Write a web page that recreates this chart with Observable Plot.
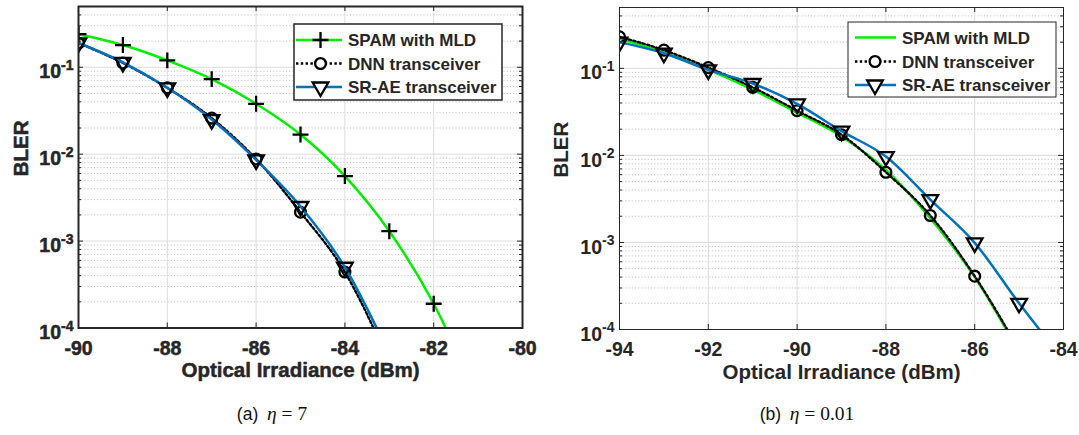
<!DOCTYPE html>
<html>
<head>
<meta charset="utf-8">
<script src="https://cdn.jsdelivr.net/npm/d3@7"></script>
<script src="https://cdn.jsdelivr.net/npm/@observablehq/plot@0.6"></script>
<style>
  body { margin: 0; background: #fff; }
  #fig { position: relative; width: 1079px; height: 435px; background: #fff; }
  .panel { position: absolute; top: 0; }
  .caption {
    position: absolute; top: 402px; width: 300px; text-align: center;
    font-size: 17.5px; color: #111; line-height: 24px;
  }
  .caption .tag { font-family: "Liberation Sans", Arial, sans-serif; }
  .caption .math { font-family: "Liberation Serif", "DejaVu Serif", serif; font-size: 19.5px; }
</style>
</head>
<body>
<div id="fig"></div>
<script>
const GREEN = "#00f000", BLUE = "#0072bd", INK = "#262626";

// Series names
const seriesNames = ["SPAM with MLD", "DNN transceiver", "SR-AE transceiver"];

// (a) eta = 7 : BLER versus optical irradiance (dBm)
const irradianceA = [-90, -89, -88, -87, -86, -85, -84, -83, -82, -81];
const spamA = [0.24, 0.18, 0.12, 0.073, 0.038, 0.0168, 0.0056, 0.0013, 0.00019, 0.000015];
const dnnA  = [0.19, 0.112, 0.058, 0.026, 0.0088, 0.00215, 0.00044, 0.00004];
const sraeA = [0.19, 0.114, 0.058, 0.025, 0.0086, 0.0025, 0.0005, 0.00005];
const xTicksA = [-90, -88, -86, -84, -82, -80];

// (b) eta = 0.01
const irradianceB = [-94, -93, -92, -91, -90, -89, -88, -87, -86, -85, -84];
const spamB = [0.22, 0.152, 0.097, 0.057, 0.031, 0.0165, 0.0068, 0.0019, 0.0004, 0.000055];
const dnnB  = [0.23, 0.162, 0.102, 0.0605, 0.0326, 0.0173, 0.0064, 0.00204, 0.00041, 0.000058];
const sraeB = [0.2, 0.149, 0.096, 0.067, 0.039, 0.019, 0.0097, 0.0031, 0.00099, 0.0002, 0.000045];
const xTicksB = [-94, -92, -90, -88, -86, -84];

// Shared log axis
const yDomain = [1e-4, 0.5];
const yDecades = [1e-4, 1e-3, 1e-2, 1e-1];
const yMinor = yDecades.flatMap(d => [2, 3, 4, 5, 6, 7, 8, 9].map(k => +(k * d).toPrecision(3)))
  .filter(v => v <= yDomain[1]);

const rows = (xs, ys) => ys.map((y, i) => ({x: xs[i], y}));

const FONT = "'Liberation Sans', Arial, sans-serif";
const MARK = {plus: 5.2, circle: 5.4, triangle: 5.8};

function legendMark(entries, box) {
  return () => {
    const g = d3.create("svg:g")
      .attr("font-family", FONT).attr("font-weight", "bold")
      .attr("font-size", 17).attr("fill", INK).attr("text-anchor", "start");
    g.append("rect")
      .attr("x", box.x).attr("y", box.y).attr("width", box.w).attr("height", box.h)
      .attr("fill", "white").attr("stroke", INK).attr("stroke-width", box.sw);
    entries.forEach((e, i) => {
      const y = box.y + box.rows[i];
      g.append("line")
        .attr("x1", box.x + box.l0).attr("x2", box.x + box.l1)
        .attr("y1", y).attr("y2", y)
        .attr("stroke", e.stroke).attr("stroke-width", 2.5)
        .attr("stroke-dasharray", e.dash || null);
      if (e.symbol) {
        g.append("path")
          .attr("transform", `translate(${box.x + box.mk},${y}) rotate(${e.rotate || 0})`)
          .attr("d", d3.symbol(e.symbol, Math.PI * e.r * e.r)())
          .attr("fill", e.symbol === d3.symbolPlus ? "none" : "white")
          .attr("stroke", "black").attr("stroke-width", 2.3);
      }
      g.append("text").attr("x", box.x + box.tx).attr("y", y).attr("dy", "0.36em").text(e.label);
    });
    return g.node();
  };
}

function panel({width, m, xDomain, xTicks, spam, dnn, srae, spamMarkers, frameWidth, legendBox, heavy}) {
  const height = 400;
  const W = width - m.left - m.right, H = height - m.top - m.bottom;
  const DOT = "2.4,2.4";
  const entries = [
    {label: seriesNames[0], stroke: GREEN, symbol: spamMarkers ? d3.symbolPlus : null, r: MARK.plus},
    {label: seriesNames[1], stroke: "black", dash: DOT, symbol: d3.symbolCircle, r: MARK.circle},
    {label: seriesNames[2], stroke: BLUE, symbol: d3.symbolTriangle, r: MARK.triangle, rotate: 180}
  ];
  const marks = [
    // grid
    Plot.ruleY(yMinor, {stroke: "#b9b9b9", strokeWidth: 1, strokeDasharray: "1,2.2"}),
    Plot.ruleX(xTicks, {stroke: "#dcdcdc", strokeWidth: 1}),
    Plot.ruleY(yDecades, {stroke: "#dcdcdc", strokeWidth: 1}),
    // SPAM with MLD
    Plot.line(spam, {x: "x", y: "y", stroke: GREEN, strokeWidth: 2.5, curve: "monotone-x", clip: true}),
    ...(spamMarkers ? [Plot.dot(spam, {x: "x", y: "y", symbol: "plus", r: MARK.plus, stroke: "black", strokeWidth: 2.3, clip: true})] : []),
    // DNN transceiver
    Plot.line(dnn, {x: "x", y: "y", stroke: "black", strokeWidth: 2.4, strokeDasharray: DOT, curve: "monotone-x", clip: true}),
    Plot.dot(dnn, {x: "x", y: "y", symbol: "circle", r: MARK.circle, stroke: "black", strokeWidth: 2.3, fill: "none", clip: true}),
    // SR-AE transceiver
    Plot.line(srae, {x: "x", y: "y", stroke: BLUE, strokeWidth: 2.5, curve: "monotone-x", clip: true}),
    Plot.dot(srae, {x: "x", y: "y", symbol: "triangle", rotate: 180, r: MARK.triangle, stroke: "black", strokeWidth: 2.3, fill: "none", clip: true}),
    // inward tick marks on all four sides
    Plot.ruleX(xTicks, {stroke: INK, insetTop: H - 5}),
    Plot.ruleX(xTicks, {stroke: INK, insetBottom: H - 5}),
    Plot.ruleY(yDecades, {stroke: INK, insetRight: W - 5}),
    Plot.ruleY(yDecades, {stroke: INK, insetLeft: W - 5}),
    Plot.ruleY(yMinor, {stroke: INK, insetRight: W - 3}),
    Plot.ruleY(yMinor, {stroke: INK, insetLeft: W - 3}),
    Plot.frame({stroke: INK, strokeWidth: frameWidth}),
    // axes
    Plot.axisX({ticks: xTicks, tickSize: 0, tickPadding: 13, tickFormat: d => String(d)}),
    Plot.axisY({ticks: yDecades, tickSize: 0, tickPadding: 5, tickFormat: d => "10^" + Math.round(Math.log10(d))}),
    Plot.text(["Optical Irradiance (dBm)"], {frameAnchor: "bottom", text: d => d, dy: 49, fontSize: 20.5, fontWeight: "bold", fill: INK,
      stroke: heavy ? INK : null, strokeWidth: heavy ? 0.5 : null}),
    Plot.text(["BLER"], {frameAnchor: "left", text: d => d, rotate: -90, dx: -(m.left - 21), dy: 9, fontSize: 20.5, fontWeight: "bold", fill: INK,
      stroke: heavy ? INK : null, strokeWidth: heavy ? 0.5 : null}),
    legendMark(entries, legendBox)
  ];
  const svg = Plot.plot({
    width, height,
    marginLeft: m.left, marginRight: m.right, marginTop: m.top, marginBottom: m.bottom,
    x: {domain: xDomain, label: null},
    y: {type: "log", domain: yDomain, label: null},
    style: {background: "white", fontFamily: FONT, color: INK, overflow: "visible"},
    marks
  });
  const s = d3.select(svg);
  // tick label typography
  s.selectAll('g[aria-label$="tick label"]')
    .attr("font-size", 19.5).attr("font-weight", "bold").attr("fill", INK)
    .attr("stroke", heavy ? INK : null).attr("stroke-width", heavy ? 0.5 : null);
  // write y tick labels as 10 with a raised exponent
  s.selectAll('g[aria-label="y-axis tick label"] text').each(function () {
    const t = d3.select(this);
    const [base, exp] = t.text().split("^");
    t.text(null);
    t.append("tspan").attr("dy", "0.25em").text(base);
    t.append("tspan").attr("dy", "-0.6em").attr("font-size", "0.72em").text(exp);
  });
  return svg;
}

const fig = document.getElementById("fig");

const left = panel({
  width: 540, m: {left: 78, right: 18, top: 6, bottom: 72.5},
  xDomain: [-90, -80], xTicks: xTicksA,
  spam: rows(irradianceA, spamA), dnn: rows(irradianceA, dnnA), srae: rows(irradianceA, sraeA),
  spamMarkers: true, frameWidth: 2, heavy: true,
  legendBox: {x: 294, y: 24, w: 208, h: 76, sw: 1.5, rows: [16, 39.5, 63], l0: 2, l1: 48, mk: 26.5, tx: 54}
});
left.classList.add("panel");
left.style.left = "0px";
fig.appendChild(left);

const right = panel({
  width: 539, m: {left: 79, right: 16, top: 7, bottom: 71},
  xDomain: [-94, -84], xTicks: xTicksB,
  spam: rows(irradianceB, spamB), dnn: rows(irradianceB, dnnB), srae: rows(irradianceB, sraeB),
  spamMarkers: false, frameWidth: 1, heavy: false,
  legendBox: {x: 308, y: 22, w: 208, h: 75, sw: 1, rows: [15.5, 39.5, 63], l0: 7, l1: 48, mk: 27, tx: 54}
});
right.classList.add("panel");
right.style.left = "540px";
fig.appendChild(right);

// sub-figure captions
const captions = [
  {left: 122, tag: "(a)", eq: "<i>η</i> = 7"},
  {left: 657, tag: "(b)", eq: "<i>η</i> = 0.01"}
];
for (const c of captions) {
  const div = document.createElement("div");
  div.className = "caption";
  div.style.left = c.left + "px";
  div.innerHTML = `<span class="tag">${c.tag}</span>&nbsp; <span class="math">${c.eq}</span>`;
  fig.appendChild(div);
}
</script>
</body>
</html>
